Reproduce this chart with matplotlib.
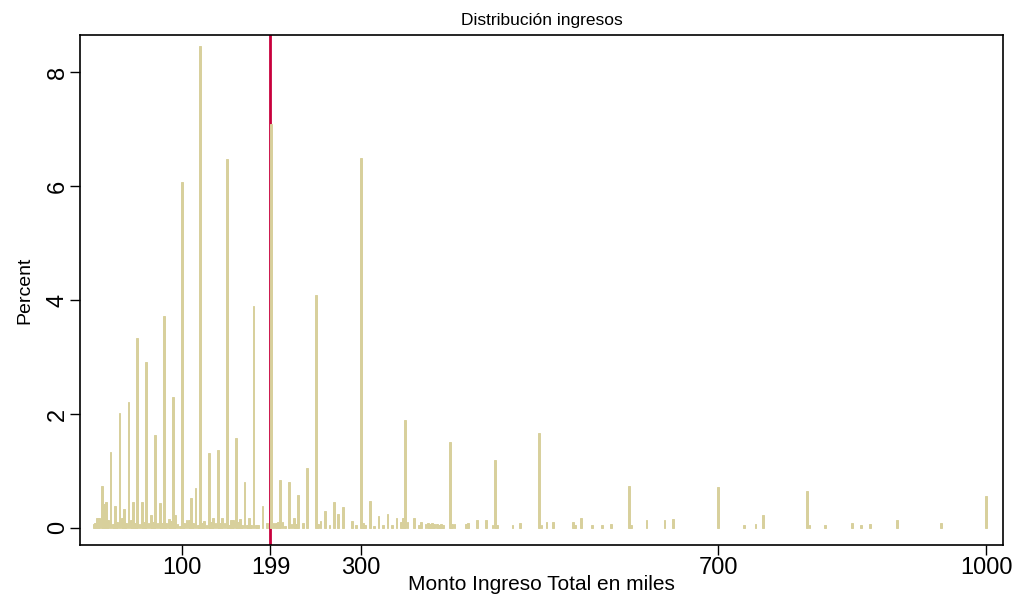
import matplotlib
matplotlib.use("Agg")
import matplotlib.pyplot as plt

plt.rcParams['font.family'] = ['Liberation Sans', 'DejaVu Sans']

# income values (thousands) and percent of observations per bin
income = [
    1, 3, 5, 7, 10, 12.5, 15, 17.5, 20, 22.5, 25, 27.5, 30, 32.5, 35, 37.5,
    40, 42.5, 45, 47.5, 50, 52.5, 55, 57.5, 60, 62.5, 65, 67.5, 70, 72.5,
    75, 77.5, 80, 82.5, 85, 87.5, 90, 92.5, 95, 97.5, 100, 102.5, 105, 107.5,
    110, 112.5, 115, 117.5, 120, 122.5, 125, 127.5, 130, 132.5, 135, 137.5,
    140, 142.5, 145, 147.5, 150, 152.5, 155, 157.5, 160, 162.5, 165, 167.5,
    170, 172.5, 175, 177.5, 180, 182.5, 185, 190, 195, 200, 202.5, 205, 207.5,
    210, 212.5, 215, 220, 222.5, 225, 227.5, 230, 235, 240, 250, 252.5, 255,
    260, 265, 270, 275, 280, 290, 295, 300, 302.5, 305, 310, 315, 320, 325,
    330, 335, 340, 345, 347.5, 350, 352.5, 360, 365, 367.5, 372.5, 375, 377.5,
    380, 382.5, 385, 387.5, 390, 392.5, 400, 402.5, 405, 417.5, 420, 430, 440,
    447.5, 450, 452.5, 470, 478, 500, 502.5, 508, 515, 538, 540, 547, 559,
    570, 580, 600, 602.5, 620, 640, 650, 700, 729, 742, 750, 800, 802.5, 820,
    850, 860, 870, 900, 950, 1000,
]
percent = [
    0.06, 0.09, 0.17, 0.17, 0.74, 0.42, 0.46, 0.14, 1.34, 0.06, 0.39, 0.10,
    2.02, 0.17, 0.33, 0.08, 2.21, 0.14, 0.46, 0.08, 3.33, 0.06, 0.46, 0.10,
    2.91, 0.08, 0.22, 0.10, 1.63, 0.08, 0.43, 0.09, 3.71, 0.08, 0.16, 0.12,
    2.29, 0.22, 0.07, 0.04, 6.07, 0.08, 0.14, 0.14, 0.52, 0.08, 0.70, 0.05,
    8.45, 0.08, 0.12, 0.05, 1.31, 0.11, 0.17, 0.08, 1.37, 0.08, 0.17, 0.08,
    6.47, 0.05, 0.14, 0.14, 1.58, 0.10, 0.15, 0.05, 0.81, 0.05, 0.18, 0.05,
    3.89, 0.05, 0.05, 0.39, 0.09, 7.09, 0.09, 0.09, 0.10, 0.84, 0.11, 0.04,
    0.80, 0.06, 0.18, 0.06, 0.57, 0.08, 1.06, 4.09, 0.06, 0.12, 0.30, 0.05,
    0.45, 0.24, 0.37, 0.12, 0.05, 6.50, 0.08, 0.05, 0.48, 0.04, 0.21, 0.05,
    0.25, 0.05, 0.17, 0.10, 0.17, 1.90, 0.10, 0.18, 0.05, 0.10, 0.07, 0.09,
    0.06, 0.08, 0.06, 0.07, 0.05, 0.06, 0.05, 1.50, 0.07, 0.06, 0.07, 0.08,
    0.13, 0.14, 0.05, 1.19, 0.05, 0.05, 0.08, 1.66, 0.05, 0.10, 0.10, 0.10,
    0.05, 0.17, 0.05, 0.05, 0.07, 0.74, 0.05, 0.13, 0.14, 0.15, 0.71, 0.05,
    0.06, 0.23, 0.65, 0.05, 0.05, 0.09, 0.05, 0.07, 0.14, 0.08, 0.56,
]

xticks = [100, 199, 300, 700, 1000]
yticks = [0, 2, 4, 6, 8]
cutoff = 199
bar_color = '#D8D09C'

fig = plt.figure(figsize=(10.16, 5.96), dpi=100)
ax = fig.add_axes([80 / 1016, 1 - 545 / 596, 923 / 1016, 510 / 596])

ax.axvline(cutoff, color='#C8003C', lw=2, zorder=1)
# thin edge in the same colour keeps every bar at least ~2px wide
ax.bar(income, percent, width=2.0, color=bar_color, edgecolor=bar_color,
       linewidth=0.7, zorder=2)

ax.set_xlim(-14.2, 1019)
ax.set_ylim(-0.3, 8.65)
ax.set_xticks(xticks)
ax.set_yticks(yticks)
ax.tick_params(axis='x', length=7, width=1, labelsize=17, pad=2)
ax.tick_params(axis='y', length=7, width=1, labelsize=17, pad=1)
for lab in ax.get_yticklabels():
    lab.set_rotation(90)
    lab.set_va('center')

for s in ax.spines.values():
    s.set_linewidth(1.2)

ax.set_title('Distribución ingresos', fontsize=12.5, pad=7)
ax.set_xlabel('Monto Ingreso Total en miles', fontsize=15, labelpad=-3)
ax.set_ylabel('Percent', fontsize=14, labelpad=10)

fig.savefig('out.png', dpi=100)
